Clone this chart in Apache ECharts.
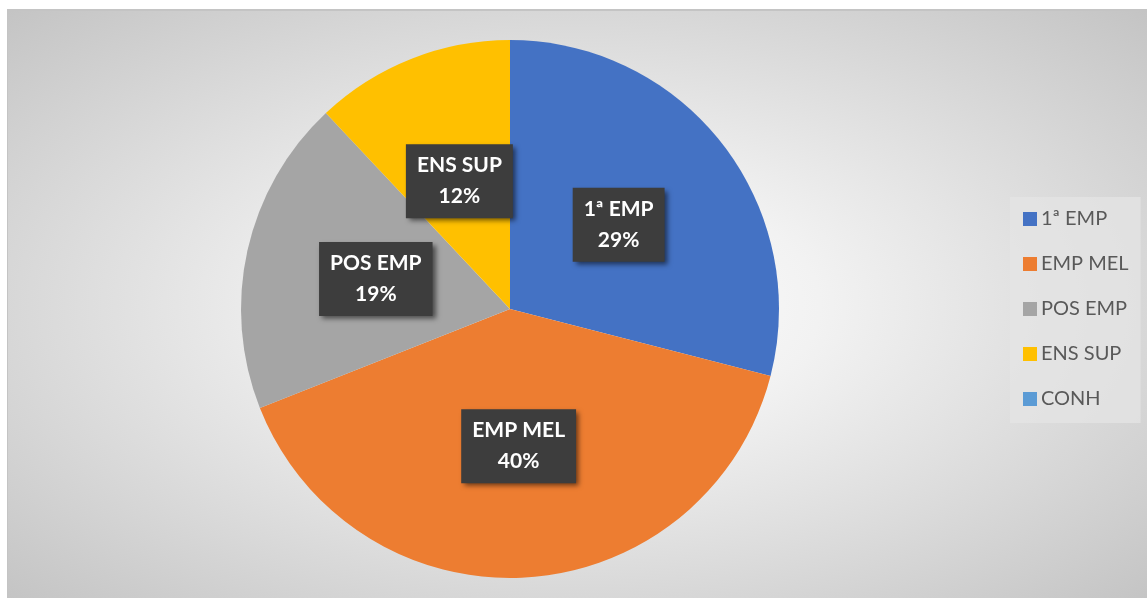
<!DOCTYPE html>
<html>
  <head>
    <meta charset="UTF-8">
    <title>pie</title>
    <script src="https://cdn.jsdelivr.net/npm/echarts@6/dist/echarts.min.js"></script>
    <style>
      html, body { margin: 0; padding: 0; background: #ffffff; }
      #frame {
        position: absolute; left: 7px; top: 9px; width: 1140px; height: 589px;
        border-top: 2px solid #c4c4c4; border-left: 1px solid #c4c4c4;
        background: radial-gradient(ellipse farthest-corner at 50% 50%, #ffffff 0%, #f2f2f2 30%, #c4c4c4 100%);
      }
      #myChart { width: 1140px; height: 589px; }
    </style>
  </head>
  <body>
    <div id="frame"><div id="myChart"></div></div>
    <script type="text/javascript">
      // categorias e valores (%)
      var categorias = ['1ª EMP', 'EMP MEL', 'POS EMP', 'ENS SUP', 'CONH'];
      var valores = [29, 40, 19, 12, 0];
      var cores = ['#4472C4', '#ED7D31', '#A5A5A5', '#FFC000', '#5B9BD5'];

      var dados = [];
      for (var i = 0; i < categorias.length; i++) {
        var item = { name: categorias[i], value: valores[i], itemStyle: { color: cores[i] } };
        if (valores[i] === 0) item.label = { show: false };
        dados.push(item);
      }

      var myChart = echarts.init(document.getElementById('myChart'));
      var option = {
        animation: false,
        backgroundColor: 'transparent',
        legend: {
          orient: 'vertical',
          left: 1002,
          top: 186,
          padding: [12, 12, 14, 13],
          backgroundColor: 'rgba(228,228,228,0.75)',
          itemWidth: 14,
          itemHeight: 14,
          itemGap: 25,
          icon: 'rect',
          textStyle: { color: '#595959', fontSize: 20, fontFamily: 'Lato', padding: [0, 0, 0, -1] },
          data: categorias
        },
        series: [
          {
            type: 'pie',
            center: [502, 298],
            radius: 269,
            startAngle: 90,
            clockwise: true,
            avoidLabelOverlap: false,
            itemStyle: { borderWidth: 0 },
            label: {
              show: true,
              position: 'inside',
              formatter: function (p) { return p.name + '\n' + p.value + '%'; },
              color: '#ffffff',
              fontSize: 21,
              fontWeight: 'bold',
              fontFamily: 'Lato',
              lineHeight: 31,
              backgroundColor: '#3d3d3d',
              padding: [6, 11, 6, 11],
              shadowColor: 'rgba(0,0,0,0.55)',
              shadowBlur: 5,
              shadowOffsetX: 3,
              shadowOffsetY: 3
            },
            labelLine: { show: false },
            emphasis: { disabled: true },
            data: dados
          }
        ]
      };
      myChart.setOption(option);
    </script>
  </body>
</html>
